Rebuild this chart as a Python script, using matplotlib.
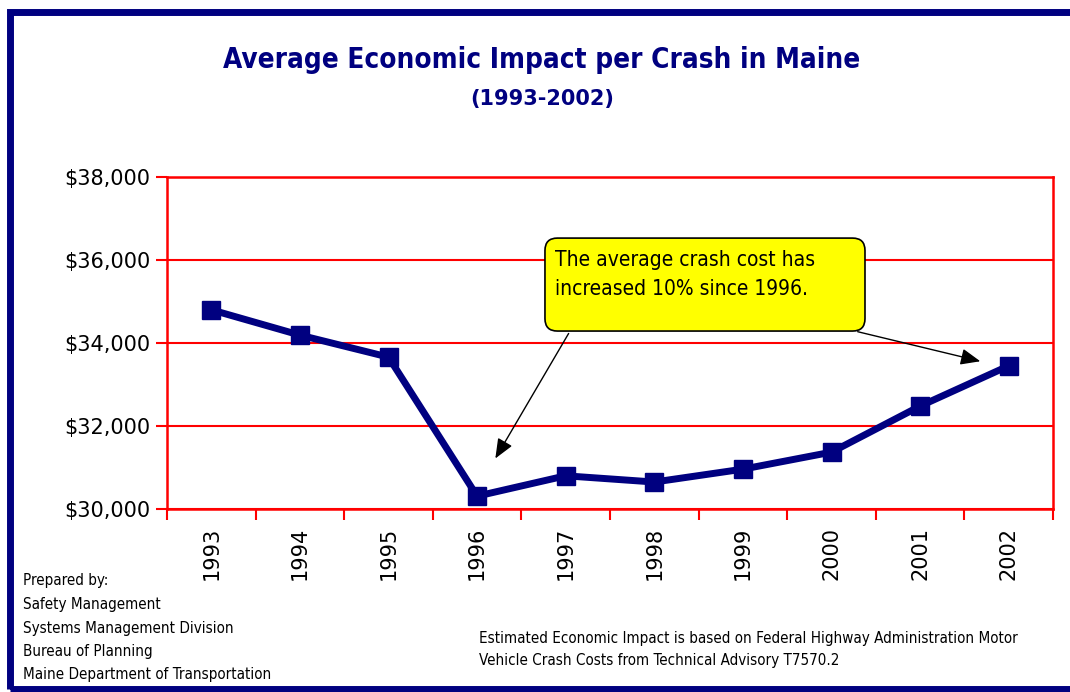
import matplotlib
matplotlib.use("Agg")
import matplotlib.pyplot as plt
from matplotlib.patches import Rectangle, FancyBboxPatch
from matplotlib.ticker import FuncFormatter, FixedLocator

years = ['1993', '1994', '1995', '1996', '1997', '1998', '1999', '2000', '2001', '2002']
avg_cost = [34800, 34190, 33660, 30310, 30800, 30650, 30960, 31370, 32480, 33450]

navy = '#000080'
red = '#ff0000'
cond = ['DejaVu Sans']

W, H = 1070, 692
fig = plt.figure(figsize=(W / 100, H / 100), dpi=100)

# navy frame around the chart
fig.patches.append(Rectangle((9.5 / W, 1 - 689 / H), 1.2, (689 - 12) / H,
                             transform=fig.transFigure, fill=False,
                             edgecolor=navy, linewidth=5))

fig.text(542 / W, 1 - 60 / H, 'Average Economic Impact per Crash in Maine',
         ha='center', va='center', fontsize=20, fontweight='bold',
         fontstretch='condensed', color=navy, family=cond)
fig.text(542 / W, 1 - 99 / H, '(1993-2002)', ha='center', va='center',
         fontsize=15, fontweight='bold', color=navy, family=cond)

ax = fig.add_axes([167 / W, 1 - 509 / H, (1053 - 167) / W, 332 / H])
x = list(range(len(years)))
ax.plot(x, avg_cost, color=navy, linewidth=5, marker='s', markersize=13,
        zorder=3, clip_on=False)

ax.set_xlim(-0.5, len(years) - 0.5)
ax.set_ylim(30000, 38000)
ax.set_yticks(range(30000, 38001, 2000))
ax.yaxis.set_major_formatter(FuncFormatter(lambda v, p: f'${v:,.0f}'))
ax.xaxis.set_major_locator(FixedLocator([i - 0.5 for i in range(len(years) + 1)]))
ax.xaxis.set_minor_locator(FixedLocator(x))
ax.set_xticklabels([])
ax.set_xticklabels(years, minor=True, rotation=90, fontsize=15)
ax.tick_params(axis='x', which='major', length=8, width=1.5, color=red, direction='out')
ax.tick_params(axis='x', which='minor', length=0, pad=13)
ax.tick_params(axis='y', length=8, width=1.5, color=red, direction='out', labelsize=15, pad=4)
ax.grid(axis='y', color=red, linewidth=1.5)
ax.set_axisbelow(True)
for s in ax.spines.values():
    s.set_color(red)
    s.set_linewidth(1.8)

# callout box with arrows
aspect = (886 / 332)
box = FancyBboxPatch((0.4266, 0.536), 0.7878 - 0.4266, 0.816 - 0.536,
                     boxstyle='round,pad=0,rounding_size=0.014',
                     transform=ax.transAxes, facecolor='#ffff00',
                     edgecolor='black', linewidth=1.2, zorder=5,
                     mutation_aspect=aspect)
ax.add_patch(box)
ax.text(0.4378, 0.78, 'The average crash cost has\nincreased 10% since 1996.',
        transform=ax.transAxes, ha='left', va='top', fontsize=15,
        fontstretch='condensed', family=cond, linespacing=1.55, zorder=6)
for start, tip in [((0.4549, 0.536), (0.369, 0.145)),
                   ((0.7765, 0.536), (0.921, 0.443))]:
    ax.annotate('', xy=tip, xycoords='axes fraction', xytext=start,
                textcoords='axes fraction', zorder=4,
                arrowprops=dict(arrowstyle='-|>,head_length=1.2,head_width=0.5',
                                color='black', linewidth=1))

prepared = ['Prepared by:', 'Safety Management', 'Systems Management Division',
            'Bureau of Planning', 'Maine Department of Transportation']
for i, line in enumerate(prepared):
    fig.text(23 / W, 1 - (581 + i * 23.5) / H, line, ha='left', va='center',
             fontsize=10.9, fontstretch='condensed', family=cond)

fig.text(479 / W, 1 - 638 / H,
         'Estimated Economic Impact is based on Federal Highway Administration Motor',
         ha='left', va='center', fontsize=10.9, fontstretch='condensed', family=cond)
fig.text(479 / W, 1 - 661 / H, 'Vehicle Crash Costs from Technical Advisory T7570.2',
         ha='left', va='center', fontsize=10.9, fontstretch='condensed', family=cond)

fig.savefig('out.png', dpi=100)
